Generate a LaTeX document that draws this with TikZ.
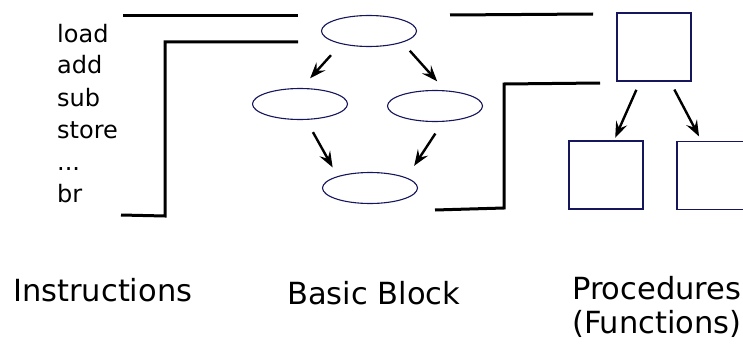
\documentclass[tikz,border=0pt]{standalone}
\usepackage{fontspec}
\setmainfont{DejaVu Sans}
\usepackage{tikz}
\usetikzlibrary{arrows.meta,positioning,shapes.geometric}
\definecolor{blocknavy}{RGB}{22,22,92}
\tikzset{>=Stealth,
	bblock/.style={% basic blocks of the CFG
		draw=blocknavy, shape=ellipse,
		line width=1.1pt,
		minimum width=95pt,
		minimum height=31pt,
		inner sep=0pt
	},
	proc/.style={% procedures of the call graph
		draw=blocknavy, rectangle,
		line width=1.2pt,
		minimum width=74pt,
		minimum height=68pt,
		inner sep=0pt
	},
	instr/.style={
		anchor=base west, inner sep=0pt,
		font=\fontsize{24}{32}\selectfont
	},
	caption/.style={
		anchor=base west, inner sep=0pt,
		font=\fontsize{30.5}{34}\selectfont
	},
	flow/.style={
		line width=2.4pt,
		arrows={-Stealth[length=16pt,width=12pt,inset=6pt]}
	},
	wire/.style={line width=3pt, line join=miter}
}

\begin{document}
\begin{tikzpicture}[x=1pt, y=-1pt]
		\useasboundingbox (0,0) rectangle (743,345);

		% instruction list
		\node[instr] (load) at (57,42) {load};
		\node[instr] (add) at (57,74) {add};
		\node[instr] (sub) at (57,106) {sub};
		\node[instr] (store) at (57,138) {store};
		\node[instr] (dots) at (57,170) {...};
		\node[instr] (br) at (57,202) {br};

		% basic blocks
		\node[bblock] (entry) at (369,31) {};
		\node[bblock] (then) at (300,104) {};
		\node[bblock] (else) at (435,106) {};
		\node[bblock] (join) at (370,188) {};
		\draw[flow, shorten <=15pt, shorten >=13pt] (entry.205) -- (then.85);
		\draw[flow, shorten <=11pt, shorten >=12pt] (entry.341) -- (else.57);
		\draw[flow, shorten <=14pt, shorten >=10pt] (then.291) -- (join.160);
		\draw[flow, shorten <=14pt, shorten >=14pt] (else.297) -- (join.16);

		% procedures
		\node[proc] (main) at (654,47) {};
		\node[proc] (callee) at (606,175) {};
		\node[proc] (other) at (714,175.5) {};
		\draw[flow, shorten <=9pt, shorten >=3pt] (main.248) -- (callee.77);
		\draw[flow, shorten <=9pt, shorten >=5pt] (main.295) -- (other.110);

		% brackets between the levels
		\draw[wire] (123,16) -- (298,16);
		\draw[wire] (298,42) -- (165,42) -- (165,216) -- (121,215);
		\draw[wire] (450,15) -- (593,14);
		\draw[wire] (600,83) -- (504,84) -- (504,208) -- (435,210);

		% captions
		\node[caption] (instrs) at (13,301) {Instructions};
		\node[caption] (bbs) at (287,304) {Basic Block};
		\node[caption] (procs) at (572,299) {Procedures};
		\node[caption] (funcs) at (572,333) {(Functions)};
	\end{tikzpicture}
\end{document}
